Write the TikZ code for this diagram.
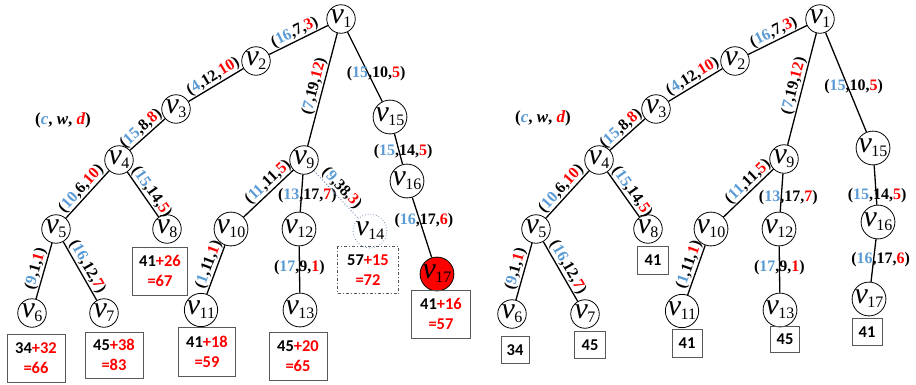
\documentclass[tikz,border=0pt]{standalone}
\usepackage{fontspec}
\setmainfont{Liberation Serif}
\newfontfamily\serfont{Liberation Serif}
\newfontfamily\boxfont{Carlito}
\definecolor{cblue}{RGB}{91,155,213}
\definecolor{vred}{RGB}{255,0,0}
\definecolor{dotblue}{RGB}{120,150,190}
\newcommand\vx[1]{{\serfont\fontsize{30}{30}\selectfont\itshape v}\kern-0.5pt\raisebox{-4pt}{\serfont\fontsize{16}{16}\selectfont #1}}
\newcommand\trip[3]{(\textcolor{cblue}{#1},#2,\textcolor{vred}{#3})}
\begin{document}
\begin{tikzpicture}[x=1pt,y=-1pt,
 vn/.style={circle,draw,line width=0.8pt,minimum size=28.5pt,inner sep=0pt,fill=white},
 el/.style={font=\serfont\fontsize{16}{16}\selectfont\bfseries,inner sep=1pt},
 sl/.style={el,sloped,above,inner sep=0.5pt},
 ed/.style={line width=1.3pt},
 bx/.style={draw=black!65,line width=1pt,font=\boxfont\fontsize{16.5}{20}\selectfont\bfseries,align=center,inner sep=0pt},
 bxs/.style={bx,minimum width=30pt,minimum height=27pt},
 bxl/.style={bx,minimum width=58pt,minimum height=48pt},
 lgd/.style={font=\serfont\fontsize{17}{17}\selectfont\bfseries}]
\useasboundingbox (0,0) rectangle (916,384);

% ---------- left tree ----------
\node[vn] (L1) at (341,19) {\vx{1}};
\node[vn] (L2) at (256,61) {\vx{2}};
\node[vn] (L3) at (176,109) {\vx{3}};
\node[vn] (L4) at (119,160) {\vx{4}};
\node[vn] (L5) at (56,229) {\vx{5}};
\node[vn] (L8) at (167,229) {\vx{8}};
\node[vn] (L6) at (32,313) {\vx{6}};
\node[vn] (L7) at (104,313) {\vx{7}};
\node[vn] (L9) at (304,160) {\vx{9}};
\node[vn] (L10) at (231,229) {\vx{10}};
\node[vn] (L12) at (299,229) {\vx{12}};
\node[vn,draw=dotblue,dotted] (L14) at (370,231) {\vx{14}};
\node[vn] (L11) at (201,310) {\vx{11}};
\node[vn] (L13) at (300,310) {\vx{13}};
\node[vn] (L15) at (390,117) {\vx{15}};
\node[vn] (L16) at (407,181) {\vx{16}};
\node[vn,fill=vred] (L17) at (437,274) {\vx{17}};

\node[lgd] (LG1) at (63,120) {(\textit{\textcolor{cblue}{c}}, \textit{w}, \textit{\textcolor{vred}{d}})};

\draw[ed] (L1) -- node[sl,pos=0.5]{\trip{16}{7}{3}} (L2);
\draw[ed] (L2) -- node[sl,pos=0.47]{\trip{4}{12}{10}} (L3);
\draw[ed] (L3) -- node[sl,pos=0.52]{\trip{15}{8}{8}} (L4);
\draw[ed] (L1) -- node[sl,pos=0.49]{\trip{7}{19}{12}} (L9);
\draw[ed] (L1) -- node[el,pos=0.595,xshift=8pt]{\trip{15}{10}{5}} (L15);
\draw[ed] (L15) -- node[el,pos=0.59,xshift=4pt]{\trip{15}{14}{5}} (L16);
\draw[ed] (L16) -- node[el,pos=0.39,xshift=4pt]{\trip{16}{17}{6}} (L17);
\draw[ed] (L4) -- node[sl,pos=0.5]{\trip{10}{6}{10}} (L5);
\draw[ed] (L4) -- node[sl,pos=0.55]{\trip{15}{14}{5}} (L8);
\draw[ed] (L5) -- node[sl,pos=0.5]{\trip{9}{1}{1}} (L6);
\draw[ed] (L5) -- node[sl,pos=0.5]{\trip{16}{12}{7}} (L7);
\draw[ed] (L9) -- node[sl,pos=0.39]{\trip{11}{11}{5}} (L10);
\draw[ed] (L9) -- node[el,pos=0.58,xshift=6pt]{\trip{13}{17}{7}} (L12);
\draw[line width=1pt,dotted,draw=dotblue] (L9) -- node[sl,pos=0.49]{\trip{9}{38}{3}} (L14);
\draw[ed] (L10) -- node[sl,pos=0.455]{\trip{1}{11}{1}} (L11);
\draw[ed] (L12) -- node[el,pos=0.47]{\trip{17}{9}{1}} (L13);

\node[bxl] (LB6) at (36,358) {34\textcolor{vred}{+32}\\\textcolor{vred}{=66}};
\node[bxl,minimum height=46pt] (LB7) at (114,355) {45\textcolor{vred}{+38}\\\textcolor{vred}{=83}};
\node[bxl,minimum width=55pt] (LB8) at (160,271) {41\textcolor{vred}{+26}\\\textcolor{vred}{=67}};
\node[bxl,minimum width=57pt,minimum height=49pt] (LB11) at (207,352) {41\textcolor{vred}{+18}\\\textcolor{vred}{=59}};
\node[bxl] (LB13) at (298,356) {45\textcolor{vred}{+20}\\\textcolor{vred}{=65}};
\node[bxl,minimum width=61pt,minimum height=47pt,dash pattern=on 3pt off 2pt on 1pt off 2pt] (LB14) at (368,270) {57\textcolor{vred}{+15}\\\textcolor{vred}{=72}};
\node[bxl,minimum width=59pt] (LB17) at (441,314) {41\textcolor{vred}{+16}\\\textcolor{vred}{=57}};

% ---------- right tree ----------
\node[vn] (R1) at (820,19) {\vx{1}};
\node[vn] (R2) at (735,61) {\vx{2}};
\node[vn] (R3) at (656,109) {\vx{3}};
\node[vn] (R4) at (599,160) {\vx{4}};
\node[vn] (R5) at (536,229) {\vx{5}};
\node[vn] (R8) at (648,229) {\vx{8}};
\node[vn] (R6) at (512,314) {\vx{6}};
\node[vn] (R7) at (585,314) {\vx{7}};
\node[vn] (R9) at (784,159) {\vx{9}};
\node[vn] (R10) at (711,229) {\vx{10}};
\node[vn] (R12) at (779,229) {\vx{12}};
\node[vn] (R11) at (682,311) {\vx{11}};
\node[vn] (R13) at (780,310) {\vx{13}};
\node[vn] (R15) at (873,148) {\vx{15}};
\node[vn] (R16) at (878,222) {\vx{16}};
\node[vn] (R17) at (869,299) {\vx{17}};

\node[lgd] (LG2) at (543,118) {(\textit{\textcolor{cblue}{c}}, \textit{w}, \textit{\textcolor{vred}{d}})};

\draw[ed] (R1) -- node[sl,pos=0.5]{\trip{16}{7}{3}} (R2);
\draw[ed] (R2) -- node[sl,pos=0.47]{\trip{4}{12}{10}} (R3);
\draw[ed] (R3) -- node[sl,pos=0.52]{\trip{15}{8}{8}} (R4);
\draw[ed] (R1) -- node[sl,pos=0.49]{\trip{7}{19}{12}} (R9);
\draw[ed] (R1) -- node[el,pos=0.54,xshift=6pt]{\trip{15}{10}{5}} (R15);
\draw[ed] (R15) -- node[el,pos=0.76,xshift=1pt]{\trip{15}{14}{5}} (R16);
\draw[ed] (R16) -- node[el,pos=0.48,xshift=7pt]{\trip{16}{17}{6}} (R17);
\draw[ed] (R4) -- node[sl,pos=0.5]{\trip{10}{6}{10}} (R5);
\draw[ed] (R4) -- node[sl,pos=0.55]{\trip{15}{14}{5}} (R8);
\draw[ed] (R5) -- node[sl,pos=0.5]{\trip{9}{1}{1}} (R6);
\draw[ed] (R5) -- node[sl,pos=0.5]{\trip{16}{12}{7}} (R7);
\draw[ed] (R9) -- node[sl,pos=0.39]{\trip{11}{11}{5}} (R10);
\draw[ed] (R9) -- node[el,pos=0.62,xshift=7pt]{\trip{13}{17}{7}} (R12);
\draw[ed] (R10) -- node[sl,pos=0.455]{\trip{1}{11}{1}} (R11);
\draw[ed] (R12) -- node[el,pos=0.47]{\trip{17}{9}{1}} (R13);

\node[bxs,minimum width=28pt] (RB6) at (515,350) {34};
\node[bxs,minimum width=31pt] (RB7) at (590,345) {45};
\node[bxs,minimum width=31pt,minimum height=28pt] (RB8) at (653,260) {41};
\node[bxs,minimum height=28pt] (RB11) at (687,343) {41};
\node[bxs,minimum width=29pt,minimum height=26pt] (RB13) at (785,339) {45};
\node[bxs] (RB17) at (867,332) {41};
\end{tikzpicture}
\end{document}
